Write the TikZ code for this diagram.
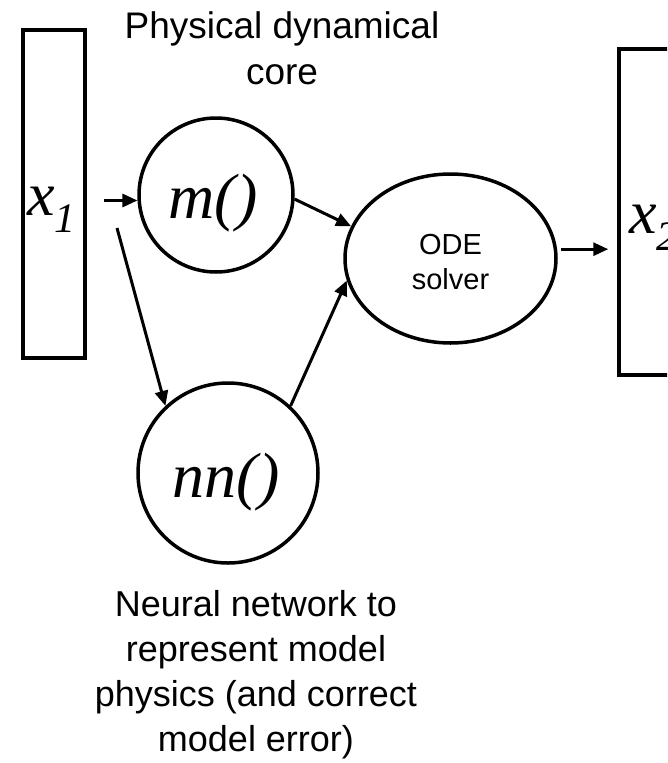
\documentclass[tikz,border=0pt]{standalone}
\usepackage{fontspec}
\setmainfont{Liberation Sans}
\newfontfamily\tms{Liberation Serif}
\usetikzlibrary{arrows.meta,shapes.geometric}
\tikzset{
  shp/.style={draw, line width=3.5pt, inner sep=0pt},
  arr/.style={-{Triangle[length=15pt,width=13pt]}, line width=3pt},
  lab/.style={align=center, inner sep=0pt, font=\fontsize{37}{46}\selectfont},
  sml/.style={align=center, inner sep=0pt, font=\fontsize{29}{35}\selectfont},
  mth/.style={inner sep=0pt, font=\tms\itshape\fontsize{62}{62}\selectfont},
}
\begin{document}
\begin{tikzpicture}[x=1pt,y=-1pt]
\clip (0,0) rectangle (667,763);
\fill[white] (0,0) rectangle (667,763);
% boxes
\node[shp, rectangle, minimum width=62pt, minimum height=328pt] (x1box) at (54,194) {};
\node[shp, rectangle, minimum width=120pt, minimum height=326pt] (x2box) at (679,212) {};
% circles and ellipse
\node[shp, circle, minimum size=154pt] (m) at (216,195) {};
\node[shp, circle, minimum size=180pt] (nn) at (228,473) {};
\node[shp, ellipse, minimum width=211pt, minimum height=169pt] (ode) at (450.5,258.5) {};
% texts
\node[mth, anchor=base west] (x1t) at (27,215) {x\raisebox{-17pt}{\fontsize{42}{42}\selectfont 1}};
\node[mth, anchor=base west] (x2t) at (629,233) {x\raisebox{-17pt}{\fontsize{42}{42}\selectfont 2}};
\node[mth, anchor=base, font=\tms\itshape\fontsize{64}{64}\selectfont] (mt) at (213,218) {m()};
\node[mth, anchor=base, font=\tms\itshape\fontsize{64}{64}\selectfont] (nnt) at (226,497) {nn()};
\node[sml, anchor=north] (odet) at (450.5,234) {ODE\\solver};
\node[lab, anchor=north] (top) at (282,11) {Physical dynamical\\core};
\node[lab, anchor=north, font=\fontsize{36}{45}\selectfont] (bot) at (256,590) {Neural network to\\represent model\\physics (and correct\\model error)};
% connectors
\coordinate (s2) at (117,228);
\draw[arr, shorten <=17pt] (m.184 -| x1box.east) -- (m.184);
\draw[arr] (s2) -- (nn.133);
\draw[arr] (m.-3) -- (ode.162.6);
\draw[arr] (nn.47.6) -- (ode.192.8);
\draw[arr, shorten <=4pt, shorten >=9pt] (ode.5) -- (ode.5 -| x2box.west);
\end{tikzpicture}
\end{document}
